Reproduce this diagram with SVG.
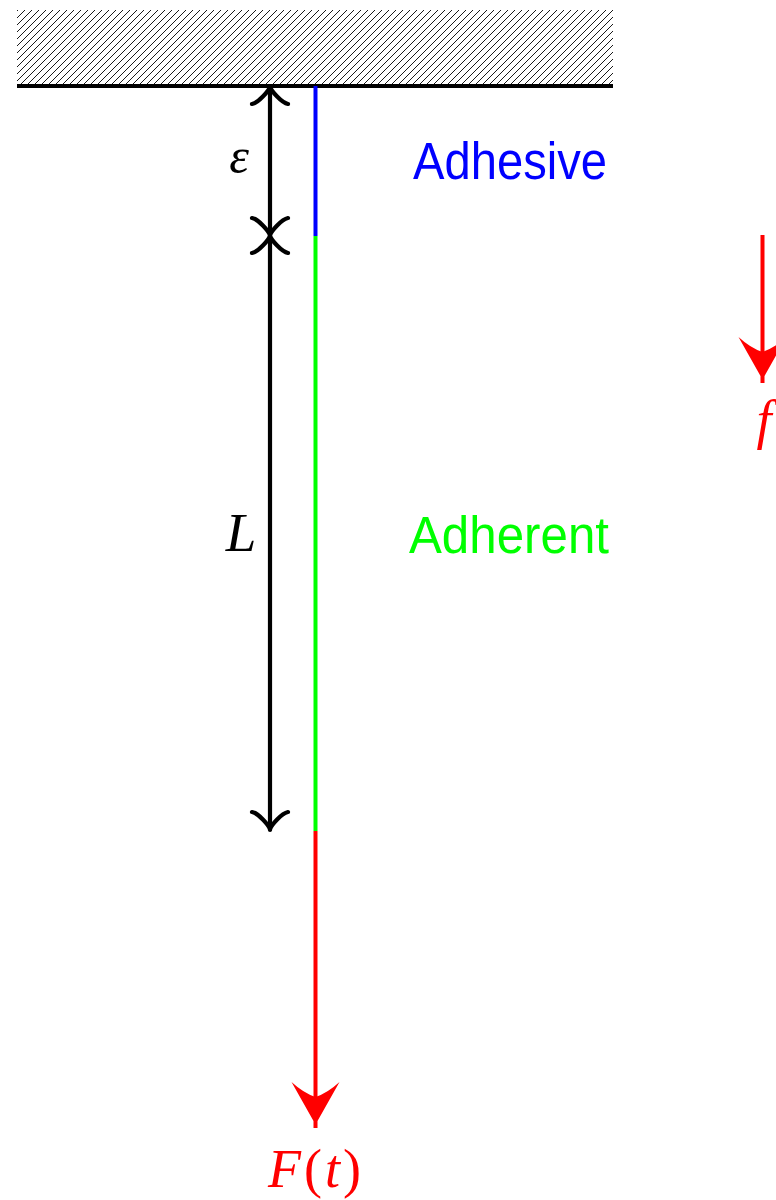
<svg xmlns="http://www.w3.org/2000/svg" xmlns:xlink="http://www.w3.org/1999/xlink" width="776" height="1200" viewBox="0 0 776 1200">
<style>
.dim{stroke:#000;stroke-width:4.2;fill:none;stroke-linecap:round;stroke-linejoin:round}
.sans{font-family:"Liberation Sans",Arial,sans-serif;font-size:51px}
.math{font-family:"Liberation Serif","Times New Roman",serif;font-style:italic}
.up{font-style:normal}
.red{fill:#ff0000}
</style>
<defs>
<pattern id="hatch" patternUnits="userSpaceOnUse" width="7" height="7">
<path d="M-1,1 L1,-1 M0,7 L7,0 M6,8 L8,6" stroke="#000" stroke-width="0.9"/>
</pattern>
<path id="toTip" d="M-18,17 C-11.25,15.75 -1.1,3.4 0,0 C1.1,3.4 11.25,15.75 18,17"/>
<path id="stealth" d="M-2,0 L-2,-7 L-24,-46 Q-12,-35 0,-31 Q12,-35 24,-46 L2,-7 L2,0 Z"/>
</defs>

<g id="wall">
<rect x="17" y="10" width="596" height="76" fill="url(#hatch)"/>
<line x1="17" y1="86" x2="613" y2="86" stroke="#000" stroke-width="4"/>
</g>

<g id="rope">
<line x1="315.5" y1="86" x2="315.5" y2="236" stroke="#0000ff" stroke-width="4"/>
<line x1="315.5" y1="236" x2="315.5" y2="831" stroke="#00ff00" stroke-width="4"/>
</g>

<g id="connectors">
<line class="dim" x1="270" y1="86" x2="270" y2="830"/>
<use xlink:href="#toTip" class="dim" transform="translate(270,87)"/>
<use xlink:href="#toTip" class="dim" transform="translate(270,235) rotate(180)"/>
<use xlink:href="#toTip" class="dim" transform="translate(270,236)"/>
<use xlink:href="#toTip" class="dim" transform="translate(270,829) rotate(180)"/>
<line x1="315.5" y1="831" x2="315.5" y2="1120" stroke="#ff0000" stroke-width="4"/>
<use xlink:href="#stealth" fill="#ff0000" transform="translate(315.5,1128)"/>
<line x1="762.5" y1="235" x2="762.5" y2="375" stroke="#ff0000" stroke-width="4"/>
<use xlink:href="#stealth" fill="#ff0000" transform="translate(762.5,383)"/>
</g>

<g id="label-eps"><text class="math" x="239" y="173" font-size="50" text-anchor="middle">ε</text></g>
<g id="label-L"><text class="math" x="241" y="551" font-size="55" text-anchor="middle">L</text></g>
<g id="label-adhesive"><text class="sans" x="413" y="179" fill="#0000ff" textLength="194" lengthAdjust="spacingAndGlyphs">Adhesive</text></g>
<g id="label-adherent"><text class="sans" x="409" y="553" fill="#00ff00" textLength="200" lengthAdjust="spacingAndGlyphs">Adherent</text></g>
<g id="label-F"><text class="math red" x="268" y="1187" font-size="54" textLength="93" lengthAdjust="spacing">F<tspan class="up">(</tspan>t<tspan class="up">)</tspan></text></g>
<g id="label-f"><text class="math red" x="764" y="438" font-size="54" text-anchor="middle">f</text></g>
</svg>
